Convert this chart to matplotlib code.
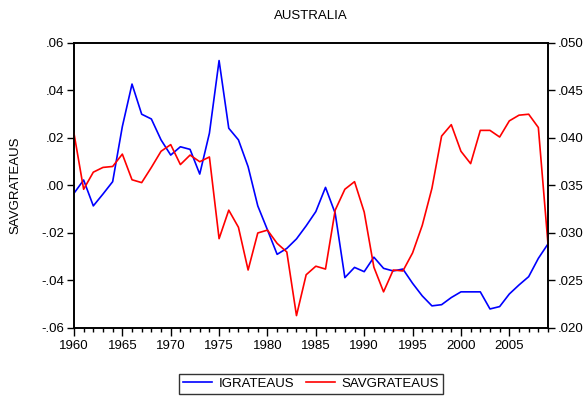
import matplotlib
matplotlib.use("Agg")
import matplotlib.pyplot as plt
from matplotlib.ticker import FuncFormatter, MultipleLocator

plt.rcParams['font.family'] = ['Liberation Sans', 'DejaVu Sans']

years = list(range(1960, 2010))

# investment growth rate (left axis)
igrateaus = [-0.0033, 0.0023, -0.0086, -0.0036, 0.0016, 0.0248, 0.0427, 0.0300, 0.0280, 0.0192,
             0.0128, 0.0163, 0.0152, 0.0048, 0.0220, 0.0526, 0.0241, 0.0192, 0.0079, -0.0086,
             -0.0187, -0.0290, -0.0265, -0.0225, -0.0170, -0.0110, -0.0008, -0.0117, -0.0388, -0.0345,
             -0.0363, -0.0302, -0.0349, -0.0360, -0.0352, -0.0412, -0.0465, -0.0507, -0.0502, -0.0472,
             -0.0448, -0.0448, -0.0448, -0.0520, -0.0510, -0.0457, -0.0419, -0.0384, -0.0307, -0.0246]

# savings growth rate (right axis)
savgrateaus = [0.0405, 0.0346, 0.0364, 0.0369, 0.0370, 0.0383, 0.0356, 0.0353, 0.0369, 0.0386,
               0.0393, 0.0372, 0.0382, 0.0375, 0.0380, 0.0294, 0.0324, 0.0306, 0.0261, 0.0300,
               0.0303, 0.0289, 0.0280, 0.0213, 0.0256, 0.0265, 0.0262, 0.0324, 0.0346, 0.0354,
               0.0322, 0.0264, 0.0238, 0.0261, 0.0260, 0.0279, 0.0308, 0.0347, 0.0402, 0.0414,
               0.0386, 0.0373, 0.0408, 0.0408, 0.0401, 0.0418, 0.0424, 0.0425, 0.0411, 0.0288]


def no_lead_zero(v, digits):
    s = ("%." + str(digits) + "f") % v
    if abs(v) < 1e-12:
        s = ("%." + str(digits) + "f") % 0.0
    return s.replace("0.", ".", 1)


fig = plt.figure(figsize=(5.87, 3.98), dpi=100)
ax = fig.add_axes([0.126, 0.176, 0.8076, 0.716])
ax2 = ax.twinx()

l1, = ax.plot(years, igrateaus, color='#0000ff', lw=1.2, label='IGRATEAUS')
l2, = ax2.plot(years, savgrateaus, color='#ff0000', lw=1.2, label='SAVGRATEAUS')

ax.set_xlim(1960, 2009)
ax.set_ylim(-0.06, 0.06)
ax2.set_ylim(0.020, 0.050)

ax.xaxis.set_major_locator(MultipleLocator(5))
ax.xaxis.set_minor_locator(MultipleLocator(1))
ax.yaxis.set_major_locator(MultipleLocator(0.02))
ax2.yaxis.set_major_locator(MultipleLocator(0.005))

ax.yaxis.set_major_formatter(FuncFormatter(lambda v, p: no_lead_zero(v, 2)))
ax2.yaxis.set_major_formatter(FuncFormatter(lambda v, p: no_lead_zero(v, 3)))

ax.tick_params(axis='x', which='major', direction='out', length=6, width=1, labelsize=9.5, pad=3)
ax.tick_params(axis='x', which='minor', direction='out', length=3, width=1)
ax.tick_params(axis='y', direction='out', length=5, width=1, labelsize=9.5, pad=2)
ax2.tick_params(axis='y', direction='out', length=5, width=1, labelsize=9.5, pad=2)

for a in (ax, ax2):
    for s in a.spines.values():
        s.set_linewidth(1.2)

ax.set_ylabel('SAVGRATEAUS', fontsize=9.5, labelpad=14)
ax.set_title('AUSTRALIA', fontsize=9.5, pad=17)

fig.legend([l1, l2], ['IGRATEAUS', 'SAVGRATEAUS'], loc='lower center',
           bbox_to_anchor=(0.53, -0.003), ncol=2, fontsize=9.5, frameon=True,
           fancybox=False, edgecolor='black', handlelength=2.2, columnspacing=0.9,
           borderpad=0.3, handletextpad=0.5, borderaxespad=0.4)
fig.legends[0].get_frame().set_linewidth(1.0)

fig.savefig('out.png', dpi=100)
